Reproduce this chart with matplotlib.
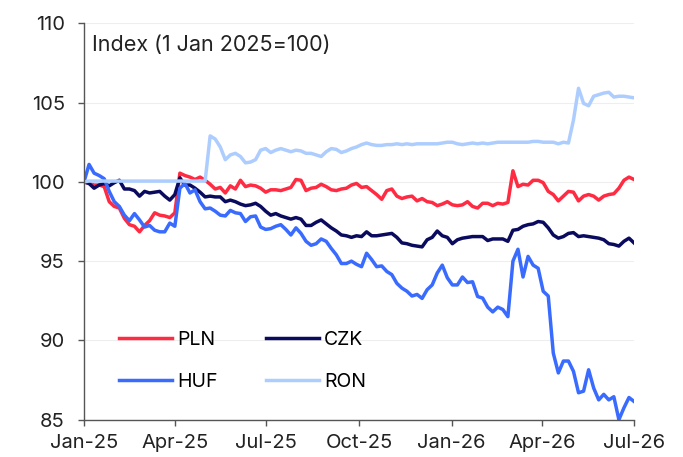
import matplotlib
matplotlib.use('Agg')
import matplotlib.pyplot as plt
import matplotlib.dates as mdates
import pandas as pd

# ~5-day sampling, 1 Jan 2025 to 1 Jul 2026
dates = pd.date_range('2025-01-01', '2026-07-01', periods=110)

pln = [
    100.0, 99.9, 99.8, 99.8, 99.7, 98.75, 98.45, 98.35, 97.7, 97.3,
    97.2, 96.85, 97.25, 97.55, 98.05, 97.9, 97.85, 97.75, 98.05, 100.55,
    100.4, 100.3, 100.15, 100.3, 100.1, 99.85, 99.55, 99.65, 99.3, 99.75,
    99.55, 100.1, 99.7, 99.8, 99.75, 99.6, 99.35, 99.5, 99.5, 99.45,
    99.55, 99.65, 100.15, 100.1, 99.45, 99.6, 99.65, 99.85, 99.7, 99.5,
    99.45, 99.55, 99.6, 99.8, 99.9, 99.65, 99.7, 99.45, 99.2, 98.9,
    99.45, 99.55, 99.1, 98.95, 99.05, 99.1, 98.8, 98.95, 98.75, 98.7,
    98.5, 98.6, 98.75, 98.55, 98.5, 98.55, 98.75, 98.45, 98.35, 98.65,
    98.65, 98.5, 98.65, 98.6, 98.7, 100.7, 99.7, 99.85, 99.8, 100.1,
    100.1, 99.95, 99.4, 99.2, 98.8, 99.1, 99.4, 99.35, 98.8, 99.1,
    99.2, 99.1, 98.85, 99.1, 99.2, 99.25, 99.6, 100.1, 100.3, 100.15,
]
czk = [
    100.0, 99.9, 99.6, 99.8, 99.9, 99.75, 99.95, 100.1, 99.55, 99.55,
    99.45, 99.1, 99.4, 99.3, 99.35, 99.4, 99.1, 98.85, 99.2, 100.25,
    99.8, 99.8, 99.6, 99.35, 99.05, 99.1, 99.05, 99.05, 98.75, 98.85,
    98.75, 98.6, 98.5, 98.55, 98.65, 98.45, 98.15, 97.9, 98.0, 97.85,
    97.75, 97.65, 97.75, 97.65, 97.25, 97.25, 97.45, 97.6, 97.35, 97.1,
    96.9, 96.65, 96.6, 96.5, 96.6, 96.55, 96.85, 96.6, 96.6, 96.65,
    96.7, 96.75, 96.5, 96.15, 96.1, 96.0, 95.95, 95.9, 96.35, 96.5,
    96.9, 96.6, 96.5, 96.1, 96.35, 96.45, 96.5, 96.55, 96.55, 96.55,
    96.3, 96.4, 96.4, 96.4, 96.25, 96.95, 97.0, 97.2, 97.3, 97.35,
    97.5, 97.45, 97.1, 96.65, 96.45, 96.55, 96.75, 96.8, 96.55, 96.6,
    96.55, 96.5, 96.45, 96.35, 96.1, 96.05, 95.95, 96.25, 96.45, 96.15,
]
huf = [
    100.0, 101.1, 100.55, 100.4, 100.2, 99.4, 98.75, 98.45, 97.9, 97.55,
    98.0, 97.6, 97.15, 97.25, 96.95, 96.85, 96.85, 97.4, 97.2, 99.6,
    99.9, 99.3, 99.5, 98.75, 98.3, 98.35, 98.15, 97.9, 97.85, 98.2,
    98.05, 98.0, 97.5, 97.8, 97.85, 97.15, 97.0, 97.05, 97.2, 97.3,
    97.0, 96.65, 97.1, 96.75, 96.25, 96.0, 96.1, 96.4, 96.25, 95.8,
    95.4, 94.85, 94.85, 95.0, 94.8, 94.65, 95.5, 95.1, 94.65, 94.7,
    94.35, 94.15, 93.6, 93.3, 93.1, 92.8, 92.9, 92.65, 93.2, 93.5,
    94.25, 94.75, 93.95, 93.5, 93.5, 94.0, 93.65, 93.7, 92.77, 92.67,
    92.1, 91.8, 92.1, 91.95, 91.5, 95.0, 95.75, 94.0, 95.3, 94.75,
    94.55, 93.1, 92.8, 89.2, 87.95, 88.7, 88.7, 88.05, 86.7, 86.8,
    88.15, 87.0, 86.25, 86.6, 86.25, 86.45, 85.0, 85.75, 86.4, 86.15,
]
ron = [
    100.0, 100.05, 100.05, 100.05, 100.05, 100.05, 100.05, 100.05, 100.05, 100.05,
    100.05, 100.05, 100.05, 100.05, 100.05, 100.05, 100.05, 100.05, 100.05, 100.05,
    100.05, 100.05, 100.05, 100.05, 100.05, 102.9, 102.7, 102.2, 101.4, 101.7,
    101.8, 101.6, 101.2, 101.25, 101.4, 102.0, 102.1, 101.85, 102.0, 102.1,
    102.0, 101.9, 102.0, 101.95, 101.8, 101.8, 101.7, 101.6, 101.9, 102.1,
    102.05, 101.85, 101.95, 102.1, 102.2, 102.35, 102.45, 102.35, 102.3, 102.3,
    102.35, 102.35, 102.4, 102.35, 102.4, 102.35, 102.4, 102.4, 102.4, 102.4,
    102.4, 102.45, 102.5, 102.5, 102.4, 102.35, 102.4, 102.45, 102.4, 102.45,
    102.4, 102.45, 102.5, 102.5, 102.5, 102.5, 102.5, 102.5, 102.5, 102.55,
    102.55, 102.5, 102.5, 102.5, 102.4, 102.5, 102.45, 103.9, 105.9, 104.95,
    104.8, 105.4, 105.5, 105.6, 105.65, 105.35, 105.4, 105.4, 105.35, 105.3,
]

series = [
    ('PLN', pln, '#ff2b42'),
    ('CZK', czk, '#0a0a5e'),
    ('HUF', huf, '#3a6bff'),
    ('RON', ron, '#aecdff'),
]
x_ticks = pd.date_range('2025-01-01', '2026-07-01', freq='3MS')
y_ticks = [85, 90, 95, 100, 105, 110]

plt.rcParams['font.family'] = ['Inter', 'DejaVu Sans']

fig = plt.figure(figsize=(6.83, 4.57), dpi=100)
ax = fig.add_axes([0.123, 0.0816, 0.8053, 0.8674])

linhas = {}
for nome, valores, cor in series:
    linhas[nome], = ax.plot(dates, valores, color=cor, lw=2.5, label=nome, solid_joinstyle='round')

ax.set_xlim(pd.Timestamp('2025-01-01'), pd.Timestamp('2026-07-01'))
ax.set_ylim(85, 110)
ax.set_yticks(y_ticks)
ax.set_xticks(x_ticks)
ax.xaxis.set_major_formatter(mdates.DateFormatter('%b-%y'))
ax.grid(axis='y', color='#eeeeee', lw=0.8)
ax.set_axisbelow(True)

for lado in ('top', 'right'):
    ax.spines[lado].set_visible(False)
for lado in ('left', 'bottom'):
    ax.spines[lado].set_color('#555555')
    ax.spines[lado].set_linewidth(1.0)
ax.tick_params(axis='both', colors='#555555', labelcolor='#222222', labelsize=14.5, length=4.3, width=1.0)
ax.tick_params(axis='y', pad=9.4)
ax.tick_params(axis='x', pad=6)

ax.text(0.015, 0.930, 'Index (1 Jan 2025=100)', transform=ax.transAxes, fontsize=15.5,
        color='#222222', va='baseline', ha='left')

handles = [linhas['PLN'], linhas['HUF'], linhas['CZK'], linhas['RON']]
ax.legend(handles=handles, ncol=2, frameon=False, fontsize=14, loc='upper left',
          bbox_to_anchor=(0.064, 0.225), borderpad=0, borderaxespad=0,
          handlelength=2.73, labelspacing=1.27, columnspacing=2.5, handletextpad=0.25)

fig.savefig('out.png', dpi=100)
